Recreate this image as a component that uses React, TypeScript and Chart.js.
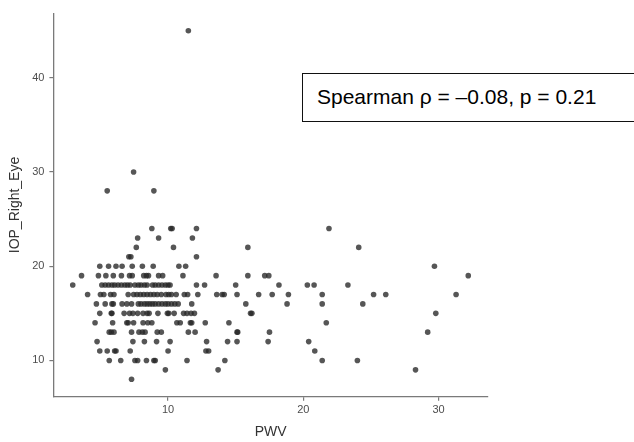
import React, { useEffect, useRef } from "react";
import { Chart, registerables } from "chart.js";

Chart.register(...registerables);

// IOP (y) levels and the PWV (x) values of the points on each level
const IOP_LEVELS = [45, 30, 28, 24, 23, 22, 21, 20, 19, 18, 17, 16, 15, 14, 13, 12, 11, 10, 9, 8];
const PWV_AT_45 = [11.5];
const PWV_AT_30 = [7.45];
const PWV_AT_28 = [5.5, 8.95];
const PWV_AT_24 = [8.8, 10.2, 10.3, 12.1, 21.9];
const PWV_AT_23 = [7.75, 9.3, 11.8];
const PWV_AT_22 = [7.65, 10.4, 15.9, 24.1];
const PWV_AT_21 = [7.1, 7.25, 12.1];
const PWV_AT_20 = [4.95, 5.6, 6.15, 6.6, 7.35, 8.1, 8.9, 10.8, 11.3, 29.7];
const PWV_AT_19 = [3.6, 4.85, 5.4, 5.95, 6.55, 7.15, 7.35, 8.2, 8.4, 8.55, 9.3, 9.6, 11.1, 13.55, 15.9, 17.15, 17.45, 32.2];
const PWV_AT_18 = [2.95, 5.1, 5.35, 5.6, 5.85, 6.05, 6.3, 6.55, 6.8, 7.0, 7.2, 7.55, 7.8, 8.0, 8.25, 8.45, 8.85, 9.05, 9.3, 9.55, 9.8, 10.0, 10.15, 12.1, 12.7, 15.0, 18.2, 20.3, 20.8, 23.3];
const PWV_AT_17 = [4.05, 5.0, 5.25, 5.75, 6.0, 7.05, 7.45, 7.7, 7.95, 8.2, 8.45, 8.7, 8.95, 9.2, 9.5, 9.85, 10.05, 10.25, 10.6, 11.2, 11.45, 12.2, 13.6, 14.0, 14.15, 15.1, 16.7, 17.7, 18.9, 21.4, 25.2, 26.1, 31.3];
const PWV_AT_16 = [4.7, 5.35, 5.85, 5.95, 6.6, 6.95, 7.3, 7.8, 8.0, 8.25, 8.45, 8.65, 8.85, 9.05, 9.3, 9.55, 9.8, 10.0, 10.25, 10.5, 10.75, 11.75, 15.75, 18.8, 21.4, 24.4];
const PWV_AT_15 = [4.95, 5.8, 5.85, 6.75, 7.15, 7.4, 7.75, 8.15, 8.45, 8.6, 9.25, 9.95, 10.05, 10.45, 11.15, 11.4, 11.7, 11.95, 16.1, 16.2, 29.8];
const PWV_AT_14 = [4.6, 5.9, 6.95, 7.05, 7.45, 8.15, 8.5, 8.8, 10.65, 10.9, 11.65, 11.75, 12.75, 14.5, 21.7];
const PWV_AT_13 = [5.65, 5.8, 6.0, 7.3, 7.85, 8.1, 8.3, 9.2, 9.5, 11.5, 12.0, 15.1, 15.15, 17.5, 29.2];
const PWV_AT_12 = [4.75, 7.4, 8.25, 9.15, 10.15, 12.85, 14.4, 15.1, 17.4, 20.4];
const PWV_AT_11 = [4.95, 5.5, 6.05, 6.15, 7.2, 10.0, 12.8, 13.0, 20.85];
const PWV_AT_10 = [5.65, 6.5, 7.55, 7.75, 8.4, 8.95, 9.05, 11.4, 14.2, 21.4, 24.0];
const PWV_AT_9 = [9.8, 13.7, 28.3];
const PWV_AT_8 = [7.3];

const PWV_ROWS = [
  PWV_AT_45, PWV_AT_30, PWV_AT_28, PWV_AT_24, PWV_AT_23, PWV_AT_22, PWV_AT_21,
  PWV_AT_20, PWV_AT_19, PWV_AT_18, PWV_AT_17, PWV_AT_16, PWV_AT_15, PWV_AT_14,
  PWV_AT_13, PWV_AT_12, PWV_AT_11, PWV_AT_10, PWV_AT_9, PWV_AT_8,
];

const X_TICKS = [10, 20, 30];
const Y_TICKS = [10, 20, 30, 40];
const X_RANGE = [1.52, 33.66];
const Y_RANGE = [6.15, 46.85];
const X_TITLE = "PWV";
const Y_TITLE = "IOP_Right_Eye";
const ANNOTATION = "Spearman ρ = –0.08, p = 0.21";

const FONT = "'Liberation Sans', Arial, sans-serif";

export default function App() {
  const ref = useRef<HTMLCanvasElement | null>(null);

  useEffect(() => {
    document.body.style.margin = "0";
    if (!ref.current) return;
    const points: { x: number; y: number }[] = [];
    IOP_LEVELS.forEach((lvl, i) => {
      PWV_ROWS[i].forEach((x) => points.push({ x, y: lvl }));
    });

    const chart = new Chart(ref.current, {
      type: "scatter",
      data: {
        datasets: [
          {
            data: points,
            pointRadius: 2.8,
            pointHoverRadius: 2.8,
            backgroundColor: "rgba(38,38,38,0.78)",
            borderWidth: 0,
          },
        ],
      },
      options: {
        responsive: false,
        animation: false,
        events: [],
        layout: { padding: { left: 0, top: 13.3, right: 146, bottom: 0 } },
        plugins: { legend: { display: false }, tooltip: { enabled: false } },
        scales: {
          x: {
            type: "linear",
            min: X_RANGE[0],
            max: X_RANGE[1],
            afterBuildTicks: (s: any) => {
              s.ticks = X_TICKS.map((v) => ({ value: v }));
            },
            afterFit: (s: any) => {
              s.height = 45.3;
            },
            grid: { display: true, drawOnChartArea: false, drawTicks: true, tickLength: 4, color: "#7a7a7a", lineWidth: 1.2 },
            border: { display: true, color: "#7a7a7a", width: 1.3 },
            ticks: { color: "#4d4d4d", font: { family: FONT, size: 11 }, padding: 3, maxRotation: 0 },
            title: { display: true, text: X_TITLE, color: "#333", font: { family: FONT, size: 14 }, padding: { top: 0, bottom: 1 } },
          },
          y: {
            type: "linear",
            min: Y_RANGE[0],
            max: Y_RANGE[1],
            afterBuildTicks: (s: any) => {
              s.ticks = Y_TICKS.map((v) => ({ value: v }));
            },
            afterFit: (s: any) => {
              s.width = 53.4;
            },
            grid: { display: true, drawOnChartArea: false, drawTicks: true, tickLength: 4, color: "#7a7a7a", lineWidth: 1.2 },
            border: { display: true, color: "#7a7a7a", width: 1.3 },
            ticks: { color: "#4d4d4d", font: { family: FONT, size: 11 }, padding: 5 },
            title: { display: true, text: Y_TITLE, color: "#333", font: { family: FONT, size: 14 }, padding: { top: 6.6, bottom: 0 } },
          },
        },
      },
    });
    return () => chart.destroy();
  }, []);

  return (
    <div style={{ position: "relative", width: 634, height: 442, overflow: "hidden", background: "#fff" }}>
      <canvas ref={ref} width={634} height={442} style={{ display: "block" }} />
      <div
        style={{
          position: "absolute",
          left: 302,
          top: 73,
          width: 360,
          height: 49,
          boxSizing: "border-box",
          border: "1.5px solid #111",
          background: "#fff",
          fontFamily: FONT,
          fontSize: 21,
          lineHeight: "46px",
          paddingLeft: 14,
          color: "#000",
          whiteSpace: "nowrap",
        }}
      >
        {ANNOTATION}
      </div>
    </div>
  );
}
